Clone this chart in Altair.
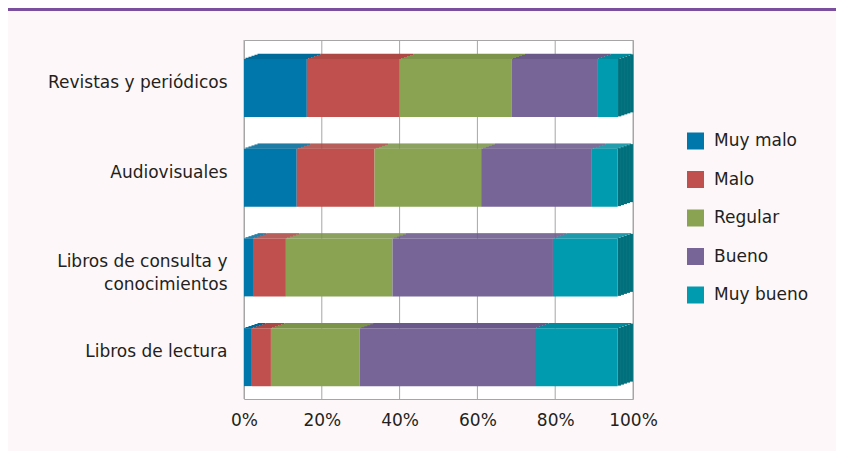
import json
import altair as alt
import pandas as pd

# ---- data ----
categories = ["Revistas y periódicos", "Audiovisuales",
              "Libros de consulta y conocimientos", "Libros de lectura"]
category_lines = [["Revistas y periódicos"], ["Audiovisuales"],
                  ["Libros de consulta y", "conocimientos"], ["Libros de lectura"]]
series = ["Muy malo", "Malo", "Regular", "Bueno", "Muy bueno"]
muy_malo = [16.8, 14.1, 2.4, 2.1]
malo = [24.8, 20.8, 8.8, 5.1]
regular = [29.9, 28.5, 28.5, 23.7]
bueno = [22.9, 29.6, 42.9, 46.9]
muy_bueno = [5.6, 6.9, 17.3, 22.1]
x_ticks = [0, 20, 40, 60, 80, 100]

# ---- styles ----
front_colors = ["#0077aa", "#c0504d", "#8aa353", "#776598", "#009baf"]
top_colors = ["#006a98", "#ad4845", "#7c944a", "#6a5a8a", "#008c9e"]
side_color = "#00707c"
text_color = "#231f20"
grid_color = "#a6a6a6"
FONT = "DejaVu Sans"
FS = 17

values = [muy_malo, malo, regular, bueno, muy_bueno]
rows = []
for i, cat in enumerate(categories):
    start = 0.0
    for j, s in enumerate(series):
        v = values[j][i]
        rows.append(dict(cat=cat, serie=s, start=start, end=start + v, value=v,
                         top=top_colors[j], last=(j == len(series) - 1)))
        start += v
df = pd.DataFrame(rows)
df_last = df[df["last"]]

# multi-line label expression
expr = "datum.value"
for cat, lines in zip(categories, category_lines):
    if len(lines) > 1:
        expr = (f"datum.value == {json.dumps(cat, ensure_ascii=False)} ? "
                f"{json.dumps(lines, ensure_ascii=False)} : ({expr})")

yenc = alt.Y("cat:N", sort=categories,
             scale=alt.Scale(domain=categories, paddingInner=0, paddingOuter=0),
             axis=alt.Axis(title=None, ticks=False, domain=False, labelPadding=17,
                           labelFont=FONT, labelFontSize=FS,
                           labelColor=text_color, labelOffset=-2,
                           labelLineHeight=23, labelExpr=expr, labelLimit=300))
bar_scale = alt.Scale(domain=[0, 104], nice=False, zero=False)
xenc = alt.X("start:Q", scale=bar_scale, axis=None)
x2enc = alt.X2("end:Q")

BAR = 58
SHIFT = 3

front = alt.Chart(df).mark_bar(size=BAR, yOffset=SHIFT).encode(
    x=xenc, x2=x2enc, y=yenc,
    color=alt.Color("serie:N", sort=series,
                    scale=alt.Scale(domain=series, range=front_colors),
                    legend=alt.Legend(title=None, orient="none", legendX=443, legendY=92.5,
                                      symbolType="square", symbolSize=289,
                                      symbolStrokeWidth=0, labelFont=FONT,
                                      labelFontSize=FS,
                                      labelColor=text_color,
                                      rowPadding=20.5, labelOffset=10, padding=0)),
)

tops = []
for k in range(5):
    tops.append(
        alt.Chart(df).mark_bar(size=1.2, yOffset=SHIFT - BAR / 2 - 0.5 - k,
                               xOffset=3 * k + 1.5, x2Offset=3 * k + 1.5).encode(
            x=xenc, x2=x2enc, y=yenc, color=alt.Color("top:N", scale=None))
    )

sides = []
for j in range(5):
    sides.append(
        alt.Chart(df_last).mark_bar(size=BAR, yOffset=SHIFT - (j + 0.5),
                                    xOffset=3 * j, x2Offset=3 * j + 3.3,
                                    color=side_color).encode(
            x=alt.X("end:Q", scale=bar_scale, axis=None), x2=alt.X2("end:Q"), y=yenc)
    )

grid = alt.Chart(pd.DataFrame({"tick": x_ticks})).mark_rule(
    color=grid_color, strokeWidth=1).encode(
    x=alt.X("tick:Q", scale=alt.Scale(domain=[0, 100], nice=False, zero=False),
            axis=alt.Axis(values=x_ticks, title=None, grid=False, ticks=False,
                          domain=False, labelPadding=13, labelFont=FONT,
                          labelFontSize=FS, labelColor=text_color,
                          labelFlush=False, labelOverlap=False,
                          labelExpr="datum.value + '%'"))
)

stripe = alt.Chart(pd.DataFrame({"a": [0]})).mark_rule(
    color="#7b4f9e", strokeWidth=3).encode(
    x=alt.value(-236), x2=alt.value(592), y=alt.value(-30.5))

bars = alt.layer(*tops, *sides, front)

chart = alt.layer(grid, bars, stripe).resolve_scale(x="independent").properties(
    width=389, height=359,
    autosize=alt.AutoSizeParams(type="none"),
    padding={"left": 236, "top": 32, "right": 203, "bottom": 52},
    background="#fdf7f9",
).configure_view(fill="white", stroke=grid_color, strokeWidth=1)

chart.save("out.html", embed_options={"renderer": "svg", "actions": False})
